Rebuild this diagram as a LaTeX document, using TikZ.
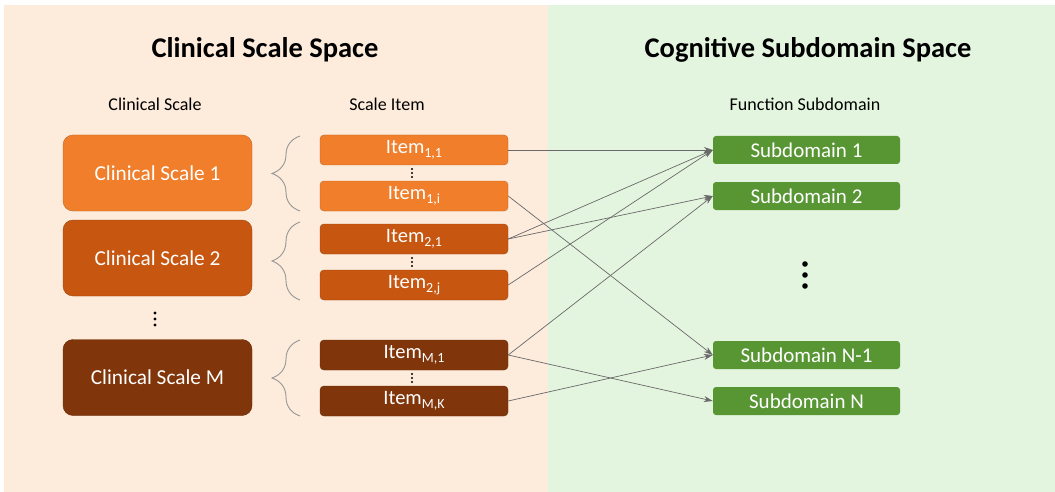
\documentclass[tikz,border=0pt]{standalone}
\usepackage{fontspec}
\setmainfont{Carlito}
\usetikzlibrary{arrows.meta,decorations.pathreplacing}

\definecolor{bgorange}{RGB}{253,235,220}
\definecolor{bggreen}{RGB}{228,245,223}
\definecolor{scaleA}{RGB}{240,126,42}
\definecolor{scaleB}{RGB}{198,86,16}
\definecolor{scaleC}{RGB}{128,54,10}
\definecolor{subgreen}{RGB}{88,150,52}
\definecolor{linkgray}{RGB}{105,105,105}
\definecolor{bracegray}{RGB}{150,150,150}

\newcommand{\itemsub}[1]{\raisebox{-0.4ex}{\fontsize{14}{14}\selectfont #1}}

\tikzset{
  title/.style={font=\fontsize{28.5}{32}\selectfont\bfseries},
  header/.style={font=\fontsize{18}{21}\selectfont},
  scalebox/.style={draw=#1!80!black, fill=#1, rounded corners=10pt, minimum width=189pt,
    minimum height=76pt, text=white, font=\fontsize{21.3}{25}\selectfont},
  itembox/.style={draw=#1!80!black, fill=#1, rounded corners=4pt, minimum width=188pt,
    minimum height=30pt, text=white, font=\fontsize{20.5}{24}\selectfont},
  subbox/.style={fill=subgreen, rounded corners=3pt, minimum width=187pt,
    minimum height=28pt, text=white, font=\fontsize{21}{24}\selectfont},
  link/.style={draw=linkgray, line width=0.7pt, -{Stealth[length=9pt,width=6pt]}},
  bracket/.style={draw=bracegray, line width=0.9pt, decorate,
    decoration={brace, amplitude=28pt}},
}

\begin{document}
\begin{tikzpicture}[x=1pt, y=-1pt]
\useasboundingbox (0,0) rectangle (1055,492);
% Sfondi
\fill[bgorange] (4,5) rectangle (548,492);
\fill[bggreen] (548,5) rectangle (1055,492);

% Titoli
\node[title] (lefttitle) at (265,50) {Clinical Scale Space};
\node[title] (righttitle) at (808,50) {Cognitive Subdomain Space};
\node[header] (scalehead) at (155,104) {Clinical Scale};
\node[header] (itemhead) at (387,104) {Scale Item};
\node[header] (subhead) at (805,104) {Function Subdomain};

% Scale cliniche
\node[scalebox=scaleA] (scale1) at (157.5,173) {Clinical Scale 1};
\node[scalebox=scaleB] (scale2) at (157.5,258) {Clinical Scale 2};
\node[scalebox=scaleC] (scaleM) at (157.5,377.5) {Clinical Scale M};
\foreach \y in {313,319,325} \fill (155,\y) circle (1.6pt);

% Parentesi
\draw[bracket] (300,211) -- (300,136);
\draw[bracket] (300,300) -- (300,222);
\draw[bracket] (300,416) -- (300,340);

% Item
\node[itembox=scaleA] (item11) at (414,150) {Item\itemsub{1,1}};
\node[itembox=scaleA] (item1i) at (414,196) {Item\itemsub{1,i}};
\node[itembox=scaleB] (item21) at (414,239) {Item\itemsub{2,1}};
\node[itembox=scaleB] (item2j) at (414,285) {Item\itemsub{2,j}};
\node[itembox=scaleC] (itemM1) at (414,355) {Item\itemsub{M,1}};
\node[itembox=scaleC] (itemMK) at (414,401) {Item\itemsub{M,K}};
\foreach \y in {169,173,177} \fill (412,\y) circle (1.1pt);
\foreach \y in {258,262,266} \fill (412,\y) circle (1.1pt);
\foreach \y in {374,378,382} \fill (412,\y) circle (1.1pt);

% Sottodomini
\node[subbox] (sub1) at (806.5,150) {Subdomain 1};
\node[subbox] (sub2) at (806.5,196) {Subdomain 2};
\node[subbox] (subN1) at (806.5,355) {Subdomain N-1};
\node[subbox] (subN) at (806.5,401) {Subdomain N};
\foreach \y in {264,275,286} \fill (805,\y) circle (2.8pt);

% Collegamenti
\draw[link] (item11.east) -- (sub1.west);
\draw[link] (item1i.east) -- (subN1.west);
\draw[link] (item21.east) -- (sub1.west);
\draw[link] (item21.east) -- (sub2.west);
\draw[link] (item2j.east) -- (sub1.west);
\draw[link] (itemM1.east) -- (sub2.west);
\draw[link] (itemM1.east) -- (subN.west);
\draw[link] (itemMK.east) -- (subN1.west);
\end{tikzpicture}
\end{document}
